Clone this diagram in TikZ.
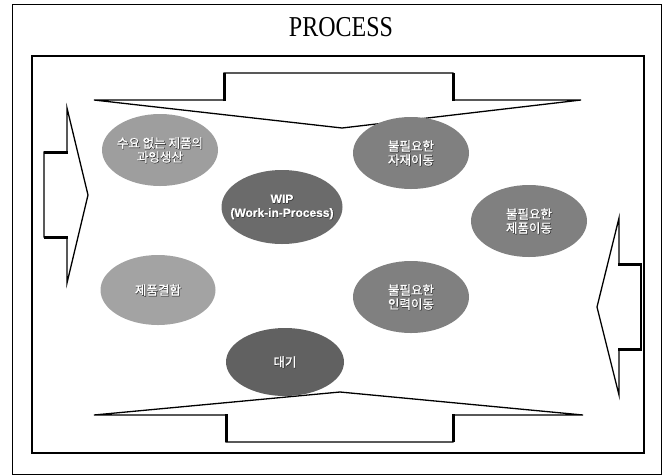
\documentclass[tikz,border=0pt]{standalone}
\usepackage{fontspec}
\setmainfont{Liberation Serif}
\newfontfamily\kr[FakeBold=1.8]{Noto Sans CJK KR}
\newfontfamily\krshadow[FakeBold=5]{Noto Sans CJK KR}
\newfontfamily\arb[FakeBold=0.6]{Liberation Sans Bold}
\newfontfamily\arbshadow[FakeBold=4]{Liberation Sans Bold}
\usetikzlibrary{shapes.geometric}
\tikzset{
  blob/.style={ellipse, inner sep=0pt, minimum width=116pt, minimum height=72pt, draw=none},
  shade/.style={text=black!80, align=center, font=\krshadow\fontsize{12.5}{14}\selectfont, inner sep=0pt},
  wtext/.style={text=white, align=center, font=\kr\fontsize{12.5}{14}\selectfont, inner sep=0pt},
  arrowline/.style={line width=1.3pt, line join=miter, fill=white},
  thickline/.style={line width=3pt, line cap=butt}
}
\begin{document}
\begin{tikzpicture}[x=1pt,y=-1pt]
\useasboundingbox (0,0) rectangle (667,475);
% frames
\draw[line width=0.8pt] (12,4) rectangle (661,474);
\draw[line width=1.1pt] (32,56) rectangle (644,453);
\node[font=\fontsize{24}{26}\selectfont, inner sep=0pt, yscale=1.2, transform shape] (title) at (341,27) {PROCESS};
% top arrow
\draw[arrowline] (94,100) -- (224,100) -- (224,73) -- (453,73) -- (453,100) -- (581,100) -- (342,128) -- cycle;
\draw[thickline] (224,101) -- (224,73);
\draw[thickline] (453,101) -- (453,73);
% bottom arrow
\draw[arrowline] (94,415) -- (226,415) -- (226,442) -- (453,442) -- (453,415) -- (583,415) -- (340,392) -- cycle;
\draw[thickline] (226,414) -- (226,442);
\draw[thickline] (453,414) -- (453,442);
% left arrow
\draw[arrowline] (67,108) -- (67,152) -- (44,152) -- (44,237) -- (67,237) -- (67,283) -- (88,195) -- cycle;
\draw[thickline] (44,152) -- (68,152);
\draw[thickline] (44,237) -- (68,237);
% right arrow
\draw[arrowline] (619,218) -- (619,264) -- (641,264) -- (641,349) -- (619,349) -- (619,395) -- (597,307) -- cycle;
\draw[thickline] (618,264) -- (642,264);
\draw[thickline] (618,349) -- (642,349);
\draw[line width=2pt] (641,264) -- (641,349);
% ellipses
\node[blob, fill=black!38] (e1) at (160,150) {};
\node[blob, fill=black!50] (e2) at (411,153) {};
\node[blob, fill=black!58, minimum width=121pt, minimum height=74pt] (e3) at (282,207) {};
\node[blob, fill=black!50] (e4) at (529,221) {};
\node[blob, fill=black!36, minimum width=115pt, minimum height=70pt] (e5) at (158,290) {};
\node[blob, fill=black!50] (e6) at (411,297) {};
\node[blob, fill=black!62, minimum width=118pt, minimum height=68pt] (e7) at (285,362) {};
% text shadows
\node[shade] (s1) at ([shift={(0.5,0.5)}]e1) {수요 없는 제품의\\과잉생산};
\node[shade] (s2) at ([shift={(0.5,0.5)}]e2) {불필요한\\자재이동};
\node[shade, font=\arbshadow\fontsize{12}{14}\selectfont] (s3) at ([shift={(0.5,0.5)}]e3) {WIP\\(Work-in-Process)};
\node[shade] (s4) at ([shift={(0.5,0.5)}]e4) {불필요한\\제품이동};
\node[shade] (s5) at ([shift={(0.5,0.5)}]e5) {제품결함};
\node[shade] (s6) at ([shift={(0.5,0.5)}]e6) {불필요한\\인력이동};
\node[shade] (s7) at ([shift={(0.5,0.5)}]e7) {대기};
% texts
\node[wtext] (t1) at (e1) {수요 없는 제품의\\과잉생산};
\node[wtext] (t2) at (e2) {불필요한\\자재이동};
\node[wtext, font=\arb\fontsize{12}{14}\selectfont] (t3) at (e3) {WIP\\(Work-in-Process)};
\node[wtext] (t4) at (e4) {불필요한\\제품이동};
\node[wtext] (t5) at (e5) {제품결함};
\node[wtext] (t6) at (e6) {불필요한\\인력이동};
\node[wtext] (t7) at (e7) {대기};
\end{tikzpicture}
\end{document}
